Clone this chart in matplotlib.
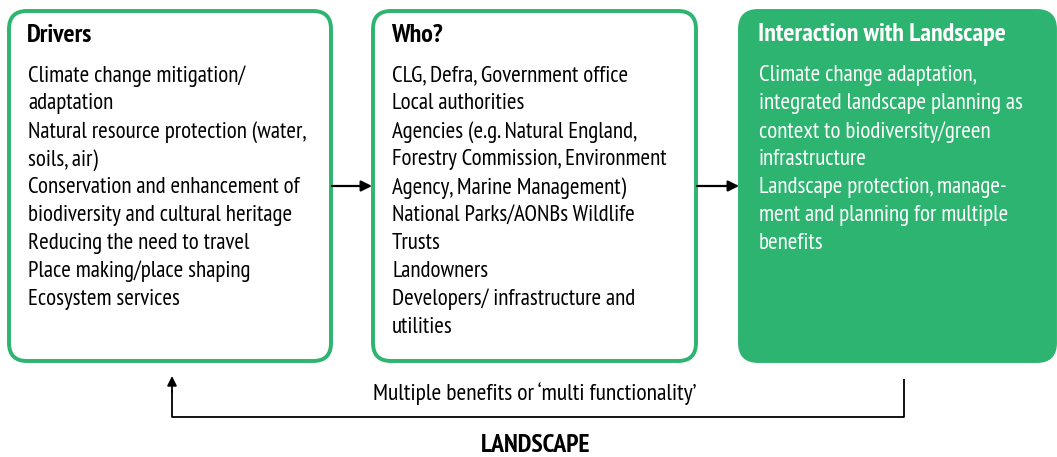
import matplotlib
matplotlib.use('Agg')
import matplotlib.pyplot as plt
from matplotlib.patches import FancyBboxPatch
from matplotlib import font_manager

# box contents
box_titles = ['Drivers', 'Who?', 'Interaction with Landscape']
drivers_lines = [
    'Climate change mitigation/',
    'adaptation',
    'Natural resource protection (water,',
    'soils, air)',
    'Conservation and enhancement of',
    'biodiversity and cultural heritage',
    'Reducing the need to travel',
    'Place making/place shaping',
    'Ecosystem services',
]
who_lines = [
    'CLG, Defra, Government office',
    'Local authorities',
    'Agencies (e.g. Natural England,',
    'Forestry Commission, Environment',
    'Agency, Marine Management)',
    'National Parks/AONBs Wildlife',
    'Trusts',
    'Landowners',
    'Developers/ infrastructure and',
    'utilities',
]
interaction_lines = [
    'Climate change adaptation,',
    'integrated landscape planning as',
    'context to biodiversity/green',
    'infrastructure',
    'Landscape protection, manage-',
    'ment and planning for multiple',
    'benefits',
]
feedback_label = "Multiple benefits or \u2018multi functionality\u2019"
footer_label = 'LANDSCAPE'

GREEN = '#2db470'

names = {f.name for f in font_manager.fontManager.ttflist}
narrow = 'DejaVu Sans'
for cand in ['PT Sans Narrow', 'Open Sans Condensed', 'Roboto Condensed',
             'Asap Condensed', 'Archivo Narrow', 'Liberation Sans Narrow']:
    if cand in names:
        narrow = cand
        break

W, H = 1057, 457
fig = plt.figure(figsize=(W / 100, H / 100), dpi=100)
ax = fig.add_axes([0, 0, 1, 1])
ax.set_xlim(0, W)
ax.set_ylim(H, 0)
ax.axis('off')
renderer = fig.canvas.get_renderer()


def fit_size(s, target_px, weight='normal'):
    # font size that makes string s about target_px wide
    t = ax.text(0, 0, s, fontsize=10, family=narrow, fontweight=weight)
    w = t.get_window_extent(renderer).width
    t.remove()
    return 10 * target_px / w


body_fs = fit_size('Natural resource protection (water,', 278)
head_fs = fit_size('Interaction with Landscape', 250, 'bold')
feed_fs = fit_size(feedback_label, 323)
foot_fs = fit_size(footer_label, 110, 'heavy')

boxes = [
    dict(x=9, w=322, lines=drivers_lines, fill='white', tc='black'),
    dict(x=373, w=323, lines=who_lines, fill='white', tc='black'),
    dict(x=740, w=315, lines=interaction_lines, fill=GREEN, tc='white'),
]
top, bottom = 11, 361
for title, b in zip(box_titles, boxes):
    p = FancyBboxPatch((b['x'], top), b['w'], bottom - top,
                       boxstyle='round,pad=0,rounding_size=18',
                       facecolor=b['fill'], edgecolor=GREEN, linewidth=2.8)
    ax.add_patch(p)
    tx = b['x'] + 19
    ax.text(tx - 1, 35, title, fontsize=head_fs, fontweight='bold', color=b['tc'],
            family=narrow, va='center', ha='left')
    for i, line in enumerate(b['lines']):
        ax.text(tx, 76 + i * 27.9, line, fontsize=body_fs, color=b['tc'],
                family=narrow, va='center', ha='left')

# forward arrows
for x0, x1 in [(332, 372), (697, 739)]:
    ax.annotate('', xy=(x1, 186), xytext=(x0, 186),
                arrowprops=dict(arrowstyle='-|>', color='black', lw=1.6,
                                mutation_scale=16, shrinkA=0, shrinkB=0))

# feedback loop
ax.plot([904, 904, 172, 172], [379, 417, 417, 390], color='black', lw=1.3,
        solid_capstyle='butt')
ax.annotate('', xy=(172, 376), xytext=(172, 392),
            arrowprops=dict(arrowstyle='-|>', color='black', lw=1.3,
                            mutation_scale=14, shrinkA=0, shrinkB=0))
ax.text(535, 394, feedback_label, fontsize=feed_fs, family=narrow,
        ha='center', va='center')
ax.text(536, 445, footer_label, fontsize=foot_fs, fontweight='heavy', family=narrow,
        ha='center', va='center')

fig.savefig('out.png', dpi=100)
